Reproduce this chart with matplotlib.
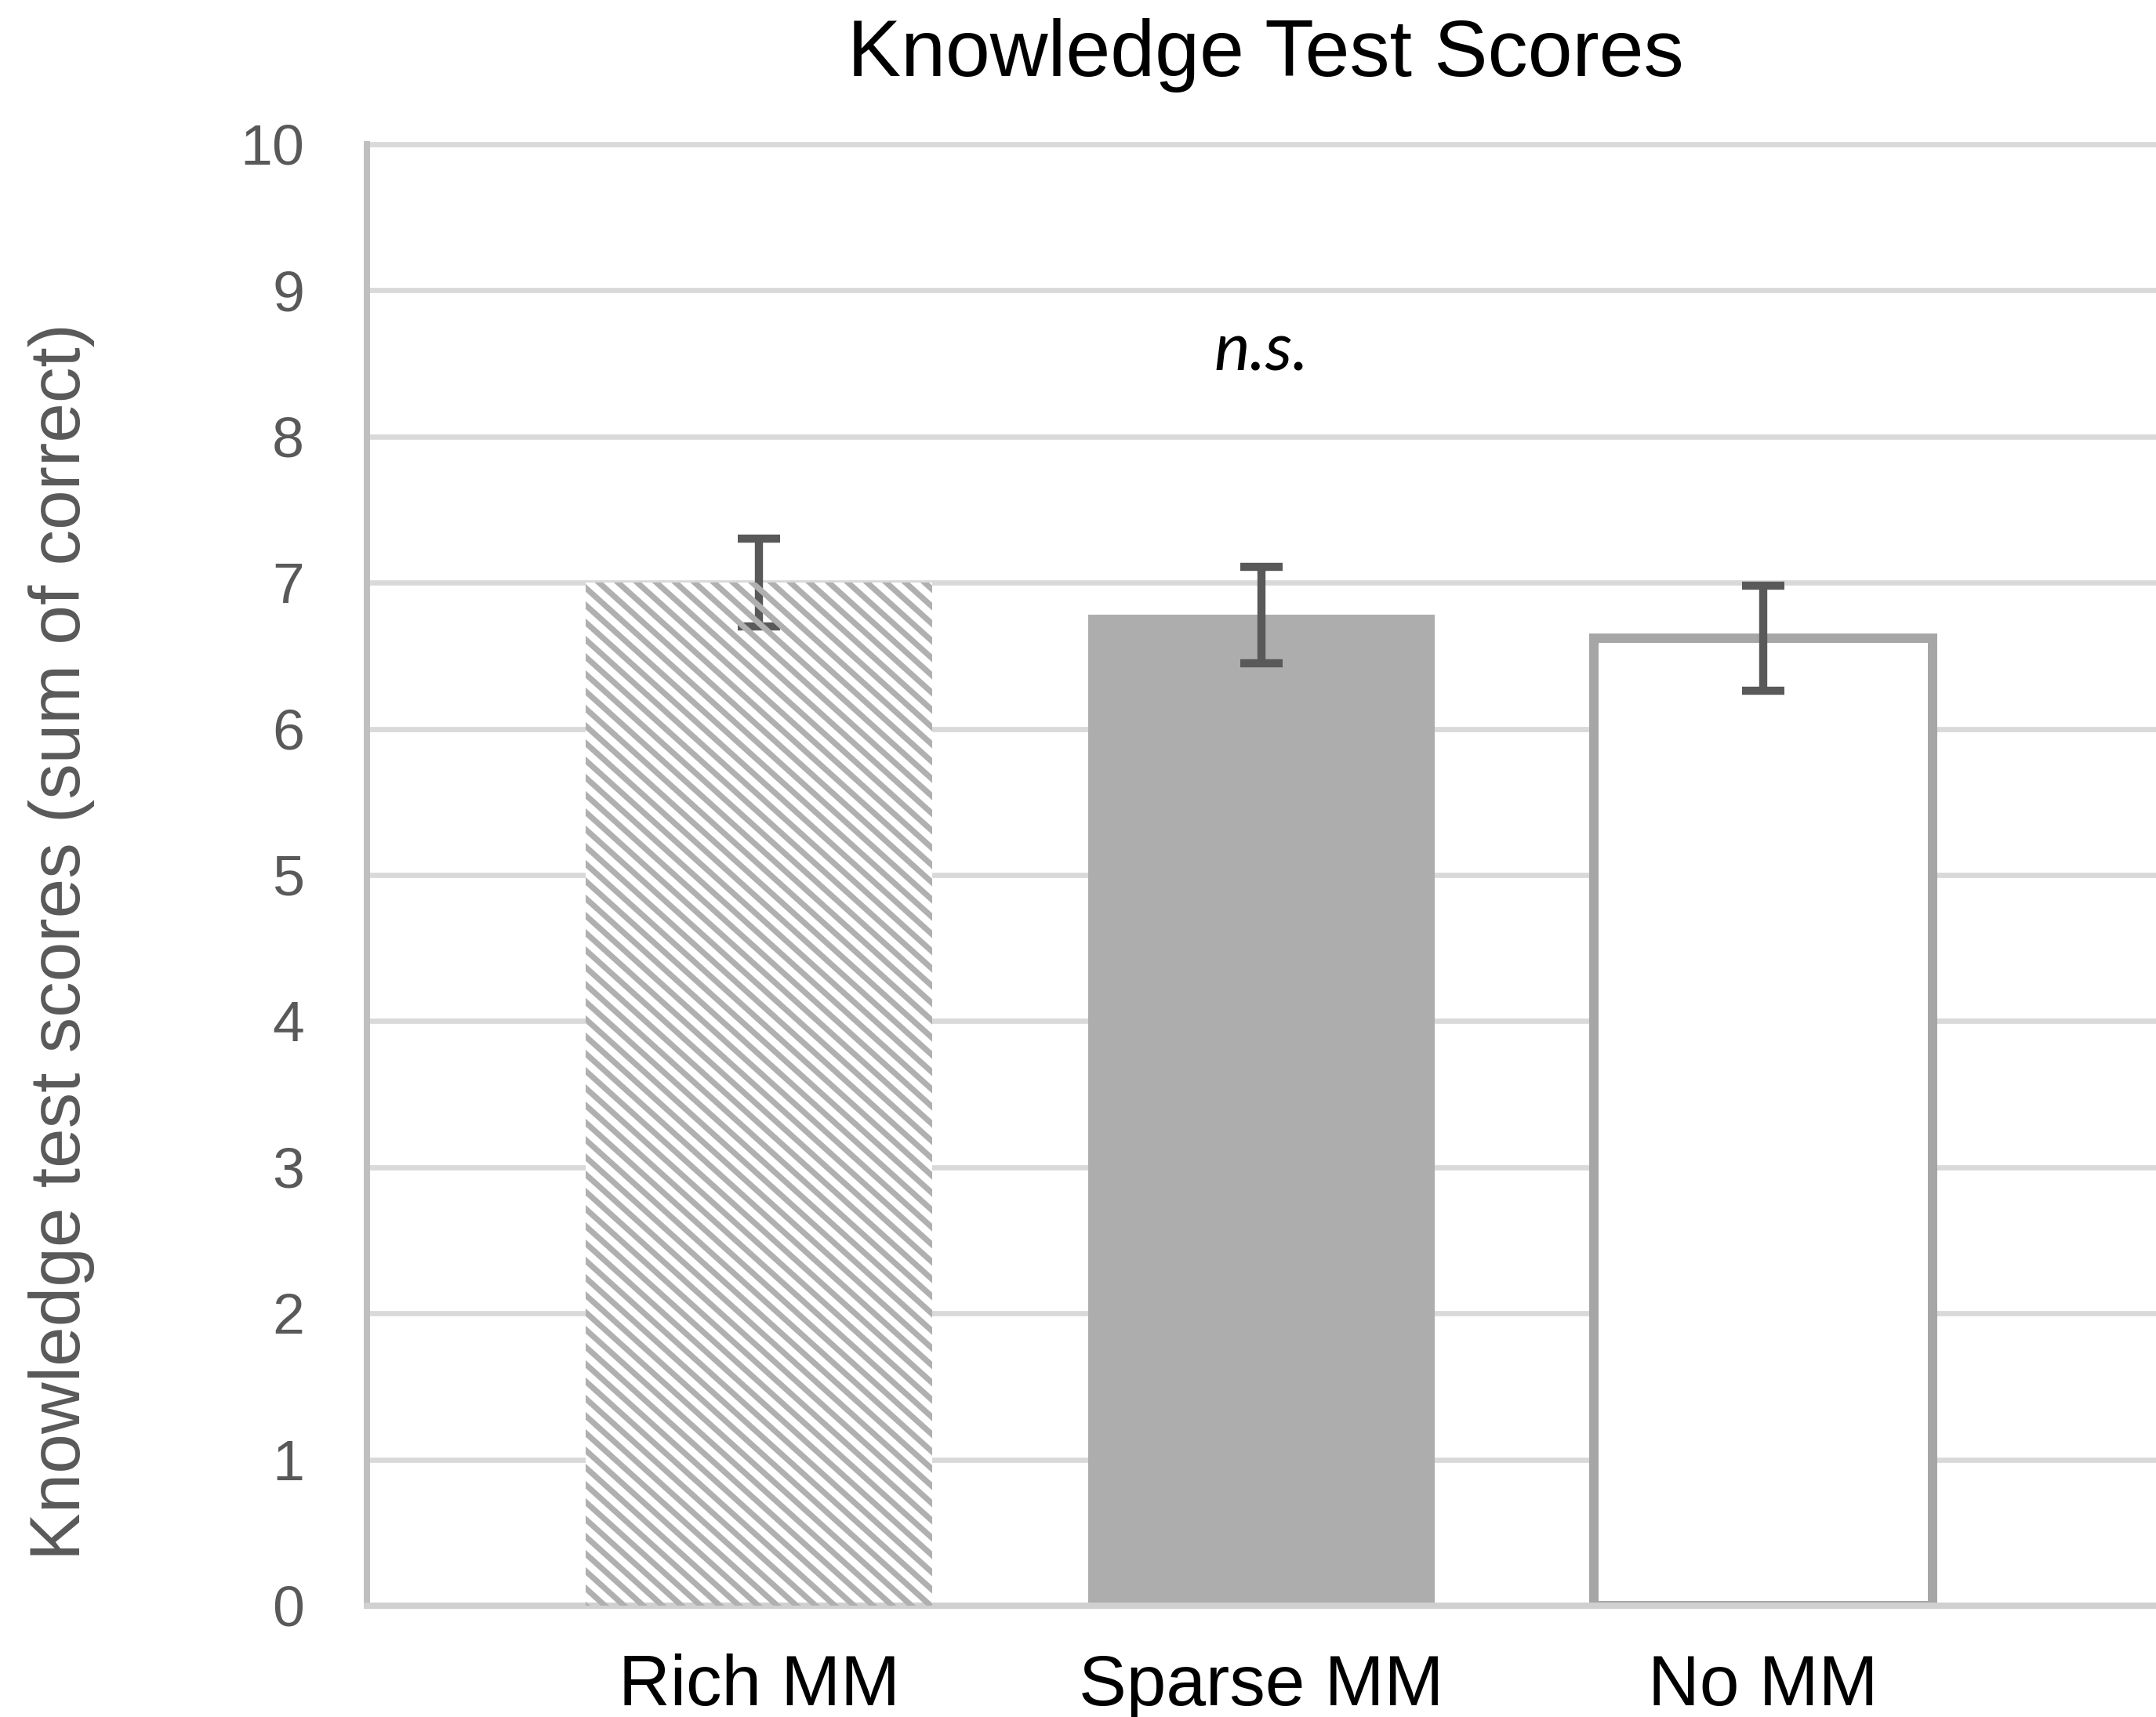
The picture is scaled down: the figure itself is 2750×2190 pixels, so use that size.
import matplotlib
matplotlib.use("Agg")
import numpy as np
import matplotlib.pyplot as plt
from matplotlib.collections import LineCollection
from matplotlib.transforms import IdentityTransform

# ---- data ----
categories = ["Rich MM", "Sparse MM", "No MM"]
scores = [7.00, 6.78, 6.62]
errors = [0.30, 0.33, 0.36]
yticks = [0, 1, 2, 3, 4, 5, 6, 7, 8, 9, 10]
title = "Knowledge Test Scores"
ylabel = "Knowledge test scores (sum of correct)"
annotation = "n.s."
annotation_y = 8.45

# ---- style ----
DPI = 115
W, H = 2750, 2190
plt.rcParams["font.family"] = ["Liberation Sans", "DejaVu Sans"]

fig = plt.figure(figsize=(W / DPI, H / DPI), dpi=DPI)
fig.patch.set_facecolor("white")
ax = fig.add_axes([468 / W, 1 - 2048 / H, (W - 468) / W, (2048 - 184) / H])

x = list(range(len(categories)))

# bars
widths = [0.69, 0.69, 0.675]
b = ax.bar(x, scores, width=widths, zorder=3)
# Rich MM: white, striped (stripes added below)
b[0].set_facecolor("white")
b[0].set_linewidth(0)
# Sparse MM: solid gray
b[1].set_facecolor("#adadad")
b[1].set_linewidth(0)
# No MM: white with gray outline
b[2].set_facecolor("white")
b[2].set_edgecolor("#a6a6a6")
b[2].set_linewidth(7.5)
b[2].set_joinstyle("miter")

ax.errorbar(x, scores, yerr=errors, fmt="none", ecolor="#595959",
            elinewidth=6.5, capsize=17, capthick=6.5, zorder=5)

ax.set_xlim(-0.781, 2.782)
ax.set_ylim(0, 10)
ax.set_yticks(yticks)
ax.set_yticklabels([str(t) for t in yticks])
ax.set_xticks(x)
ax.set_xticklabels(categories)

ax.grid(axis="y", color="#d9d9d9", linewidth=4.2, zorder=0)
ax.set_axisbelow(True)
for gl in ax.yaxis.get_gridlines():
    gl.set_clip_on(False)

for s in ["top", "right"]:
    ax.spines[s].set_visible(False)
ax.spines["left"].set_color("#bfbfbf")
ax.spines["left"].set_linewidth(5)
ax.spines["bottom"].set_color("#d0d0d0")
ax.spines["bottom"].set_linewidth(5)
ax.spines["bottom"].set_zorder(4)

ax.tick_params(axis="y", length=0, pad=50, labelsize=46, labelcolor="#595959")
ax.tick_params(axis="x", length=0, pad=79.5, labelsize=57, labelcolor="black")
for lab in ax.get_xticklabels():
    lab.set_va("baseline")

ax.text(1, annotation_y, annotation, ha="center", va="baseline",
        fontsize=54, style="italic", family=["Lato", "DejaVu Sans"], color="black")

fig.text(1614 / W, 1 - 97 / H, title, ha="center", va="baseline",
         fontsize=64, color="black")
fig.text(79 / W, 1 - 1201 / H, ylabel, ha="center", va="center",
         rotation=90, fontsize=57, color="#595959")

# diagonal stripe pattern for the first bar, clipped to the bar
fig.canvas.draw()
bb = b[0].get_window_extent()
t = np.tan(np.radians(42))
step = 22.0
c_lo = bb.y0 + t * bb.x0 - step
c_hi = bb.y1 + t * bb.x1 + step
segs = []
for c in np.arange(c_lo, c_hi, step):
    xa, xb = bb.x0 - 20, bb.x1 + 20
    segs.append([(xa, c - t * xa), (xb, c - t * xb)])
lc = LineCollection(segs, colors="#b0b0b0", linewidths=4.6,
                    transform=IdentityTransform(), zorder=3.5)
lc.set_capstyle("butt")
fig.add_artist(lc)
lc.set_clip_path(b[0])

fig.savefig("out.png", dpi=DPI, facecolor="white")
